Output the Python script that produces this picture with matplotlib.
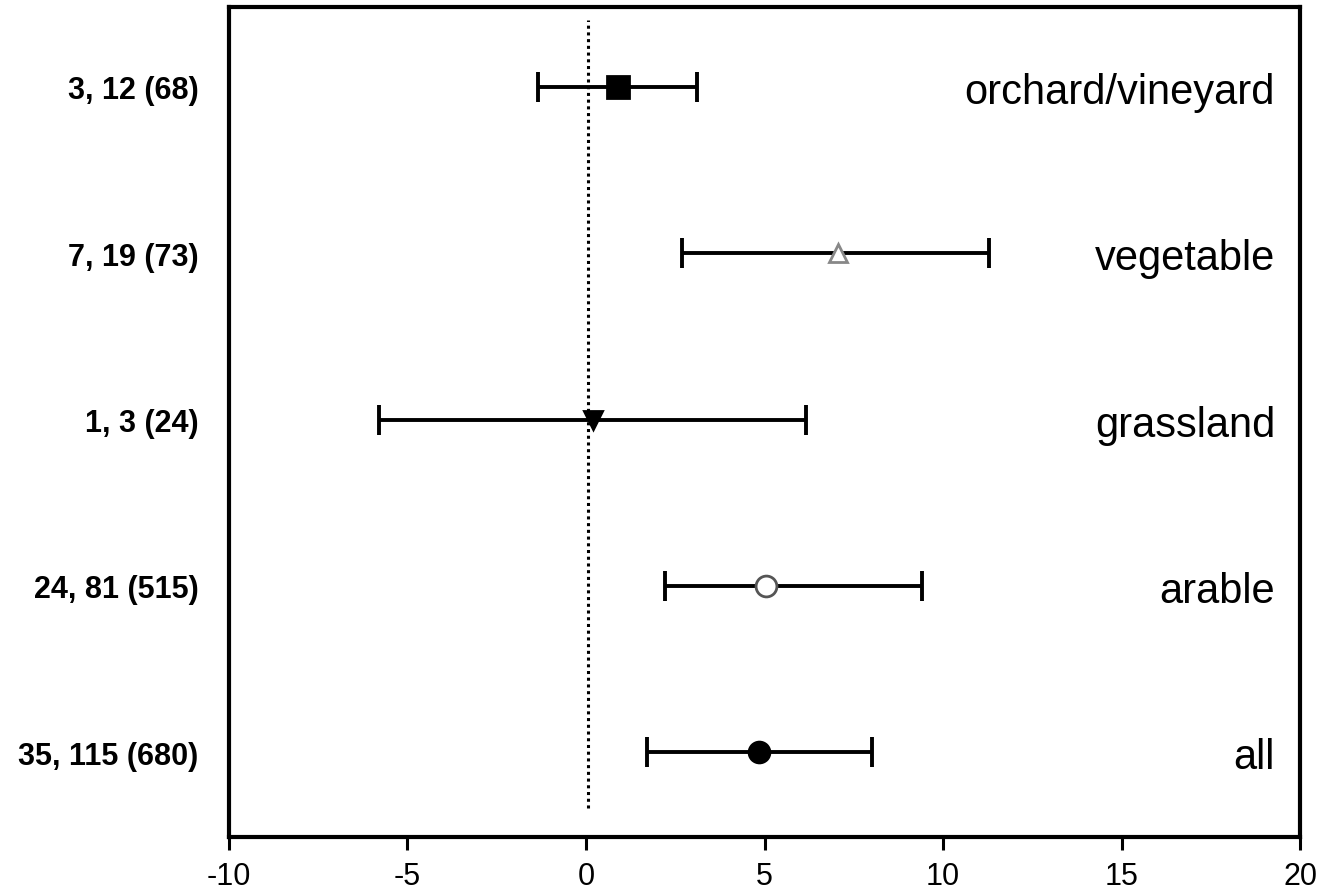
import matplotlib
matplotlib.use("Agg")
from matplotlib import pyplot as plt

groups = ["all", "arable", "grassland", "vegetable", "orchard/vineyard"]
counts = ["35, 115 (680)", "24, 81 (515)", "1, 3 (24)", "7, 19 (73)", "3, 12 (68)"]
effect = [4.85, 5.05, 0.2, 7.05, 0.9]
lower = [1.7, 2.2, -5.8, 2.7, -1.35]
upper = [8.0, 9.4, 6.15, 11.3, 3.1]
xticks = [-10, -5, 0, 5, 10, 15, 20]

markers = ["o", "o", "v", "^", "s"]
faces = ["black", "white", "black", "white", "black"]
edges = ["black", "#555555", "black", "#888888", "black"]
sizes = [15, 15, 13, 13, 16]

plt.rcParams['font.family'] = ['Liberation Sans', 'DejaVu Sans']

fig = plt.figure(figsize=(13.22, 8.95), dpi=100)
ax = fig.add_axes([0.1732, 0.0637, 0.8102, 0.9273])

ypos = list(range(1, len(groups) + 1))

# reference line at zero
ax.axvline(0.05, ymin=0.035, ymax=0.985, color="black", linestyle=(0, (1, 1.2)),
           linewidth=2.2, zorder=1)

for i, y in enumerate(ypos):
    ax.errorbar(effect[i], y,
                xerr=[[effect[i] - lower[i]], [upper[i] - effect[i]]],
                fmt="none", ecolor="black", elinewidth=2.8,
                capsize=11, capthick=2.8, zorder=2)
    ax.plot(effect[i], y, marker=markers[i], markersize=sizes[i],
            markerfacecolor=faces[i], markeredgecolor=edges[i],
            markeredgewidth=2.0, linestyle="none", zorder=3)
    ax.text(19.3, y - 0.03, groups[i], ha="right", va="center", fontsize=30)

ax.set_xlim(-10, 20)
ax.set_ylim(0.49, 5.48)
ax.set_xticks(xticks)
ax.set_xticklabels([str(t) for t in xticks], fontsize=22)
ax.set_yticks(ypos)
ax.set_yticklabels(counts, fontsize=22, fontweight="bold")

ax.tick_params(axis="x", direction="out", length=9, width=2.2, pad=8)
ax.tick_params(axis="y", length=0, pad=22)
for s in ax.spines.values():
    s.set_linewidth(3)

fig.savefig("out.png", dpi=100)
